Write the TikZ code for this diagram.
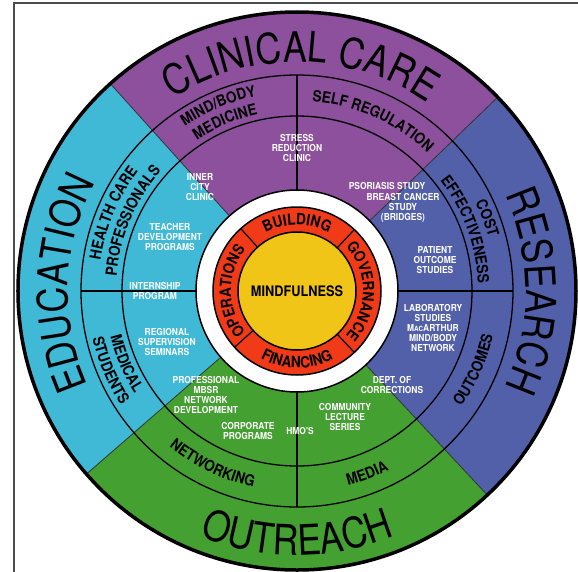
\documentclass[tikz,border=0pt]{standalone}
\usepackage{fontspec}
\setmainfont{TeX Gyre Heros}
\newfontfamily\ringfont[FakeStretch=0.85]{TeX Gyre Heros}
\newfontfamily\bandfont[FakeStretch=0.88]{TeX Gyre Heros}
\usetikzlibrary{decorations.text}

\definecolor{clinical}{RGB}{140,80,156}
\definecolor{education}{RGB}{64,185,214}
\definecolor{research}{RGB}{82,96,170}
\definecolor{outreach}{RGB}{68,160,48}
\definecolor{ringred}{RGB}{240,58,24}
\definecolor{coreyellow}{RGB}{241,196,24}

% text along an arc: font, centre angle, radius, text
\newcommand{\cwtext}[4]{\path[decorate, decoration={text along path, text align=center, text={|#1|#4}}]
  ({#2+60}:#3) arc[start angle={#2+60}, end angle={#2-60}, radius=#3];}
\newcommand{\ccwtext}[4]{\path[decorate, decoration={text along path, text align=center, text={|#1|#4}}]
  ({#2-60}:#3) arc[start angle={#2-60}, end angle={#2+60}, radius=#3];}
\newcommand{\bigf}{\ringfont\fontsize{42}{42}\selectfont}
\newcommand{\bandf}{\bandfont\bfseries\fontsize{15.5}{15.5}\selectfont}
\newcommand{\redf}{\bandfont\bfseries\fontsize{15.5}{15.5}\selectfont}

\begin{document}
\begin{tikzpicture}[
    x=1pt, y=1pt,
    divider/.style={draw=black!80, line width=0.8pt},
    ringline/.style={draw=black, line width=1.3pt},
    disc/.style={circle, draw=black, line width=1.5pt, inner sep=0pt},
    whitelabel/.style={text=white, align=center, inner sep=0pt, font=\bandfont\bfseries\fontsize{9.6}{9.8}\selectfont}
]
    \useasboundingbox (-297,-280) rectangle (281,291);
    \draw[black!70, line width=1.4pt] (-283,-300) |- (300,288);

    % sectors
    \fill[clinical] (0,0) -- (44:279) arc[start angle=44, end angle=132, radius=279] -- cycle;
    \fill[education] (0,0) -- (132:279) arc[start angle=132, end angle=221, radius=279] -- cycle;
    \fill[outreach] (0,0) -- (221:279) arc[start angle=221, end angle=313, radius=279] -- cycle;
    \fill[research] (0,0) -- (313:279) arc[start angle=313, end angle=404, radius=279] -- cycle;

    \foreach \a in {44,132,221,313} \draw[divider] (\a:101) -- (\a:279);
    \foreach \a in {0,90,180,270} \draw[ringline] (\a:101) -- (\a:216);
    \draw[ringline] (0,0) circle (175) (0,0) circle (216);
    \draw[line width=3.5pt] (0,0) circle (279);

    % hub
    \node[disc, fill=white, minimum size=202] (hub) at (0,0) {};
    \node[disc, fill=ringred, minimum size=168] (ring) at (0,0) {};
    \foreach \a in {47,132,222,313} \draw[line width=1.2pt] (\a:59) -- (\a:84);
    \node[disc, fill=coreyellow, minimum size=118, font=\bandfont\bfseries\fontsize{14.5}{14.5}\selectfont] (core) at (0,0) {MINDFULNESS};

    \cwtext{\redf}{90}{66}{BUILDING}
    \cwtext{\redf}{0}{66}{GOVERNANCE}
    \cwtext{\redf}{180}{66}{OPERATIONS}
    \ccwtext{\redf}{270}{77}{FINANCING}

    % outer band
    \cwtext{\bigf}{89}{229}{CLINICAL CARE}
    \cwtext{\bigf}{0}{229}{RESEARCH}
    \cwtext{\bigf}{178}{229}{EDUCATION}
    \ccwtext{\bigf}{270}{264}{OUTREACH}

    % middle band
    \cwtext{\bandf}{113}{199}{MIND/BODY}
    \cwtext{\bandf}{113}{181}{MEDICINE}
    \cwtext{\bandf}{66}{190}{SELF REGULATION}
    \cwtext{\bandf}{157}{199}{HEALTH CARE}
    \cwtext{\bandf}{157}{181}{PROFESSIONALS}
    \cwtext{\bandf}{21}{199}{COST}
    \cwtext{\bandf}{20}{181}{EFFECTIVENESS}
    \ccwtext{\bandf}{203}{192}{MEDICAL}
    \ccwtext{\bandf}{203}{210}{STUDENTS}
    \ccwtext{\bandf}{-24}{201}{OUTCOMES}
    \ccwtext{\bandf}{244}{201}{NETWORKING}
    \ccwtext{\bandf}{291}{201}{MEDIA}

    % inner band
    \node[whitelabel] (stress) at (0,143) {STRESS\\REDUCTION\\CLINIC};
    \node[whitelabel] (innercity) at (-97,104) {INNER\\CITY\\CLINIC};
    \node[whitelabel] (teacher) at (-127,54) {TEACHER\\DEVELOPMENT\\PROGRAMS};
    \node[whitelabel] (internship) at (-142,0) {INTERNSHIP\\PROGRAM};
    \node[whitelabel] (regional) at (-130,-51) {REGIONAL\\SUPERVISION\\SEMINARS};
    \node[whitelabel] (professional) at (-91,-104) {PROFESSIONAL\\MBSR\\NETWORK\\DEVELOPMENT};
    \node[whitelabel] (corporate) at (-49,-140) {CORPORATE\\PROGRAMS};
    \node[whitelabel] (hmo) at (3,-140) {HMO'S};
    \node[whitelabel] (community) at (48,-126) {COMMUNITY\\LECTURE\\SERIES};
    \node[whitelabel] (dept) at (95,-94) {DEPT. OF\\CORRECTIONS};
    \node[whitelabel] (laboratory) at (136,-37) {LABORATORY\\STUDIES\\M{\fontsize{7.2}{9.8}\selectfont AC}ARTHUR\\MIND/BODY\\NETWORK};
    \node[whitelabel] (patient) at (138,31) {PATIENT\\OUTCOME\\STUDIES};
    \node[whitelabel] (psoriasis) at (90,105) {PSORIASIS STUDY};
    \node[whitelabel] (breast) at (106,83) {BREAST CANCER\\STUDY\\(BRIDGES)};
\end{tikzpicture}
\end{document}
